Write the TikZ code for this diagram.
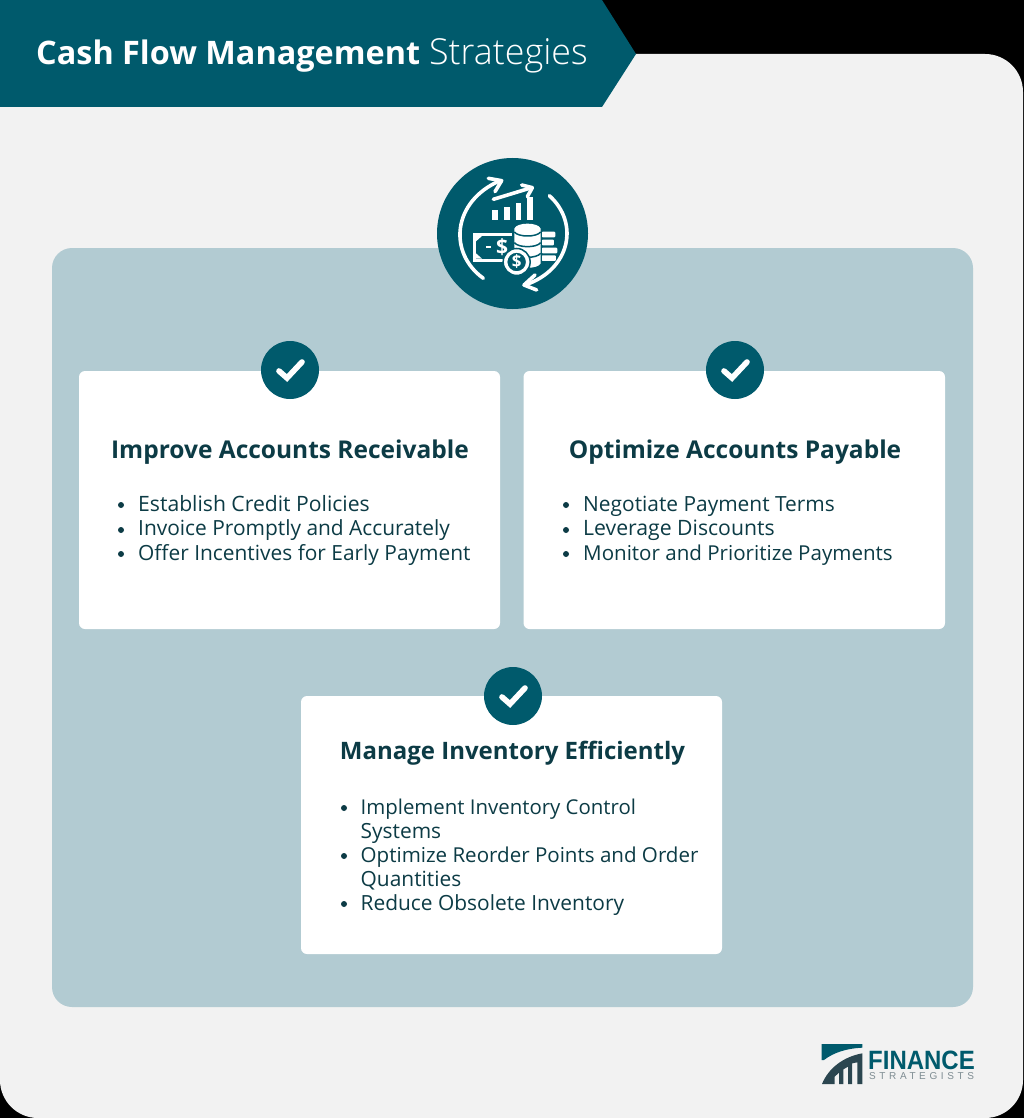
\documentclass[tikz,border=0pt]{standalone}
\usepackage{fontspec}
\setmainfont{Open Sans}
\newfontfamily\lightfont{Open Sans Light}
\newfontfamily\logofont[LetterSpace=36]{Liberation Sans}
\newfontfamily\logobold[FakeStretch=0.905]{Liberation Sans}
\definecolor{teal}{HTML}{005A6C}
\definecolor{ink}{HTML}{0C3B45}
\definecolor{pale}{HTML}{B2CBD2}
\definecolor{sheet}{HTML}{F2F2F2}
\definecolor{logodark}{HTML}{2B4650}
\definecolor{logogrey}{HTML}{7E8C92}
\tikzset{
 card/.style={fill=white,rounded corners=6pt},
 badge/.style={circle,fill=teal,minimum size=58pt,inner sep=0pt},
 tick/.style={draw=white,line width=5.6pt,line cap=round,line join=miter},
 head/.style={anchor=base,inner sep=0pt,font=\fontsize{24.5}{25}\selectfont\bfseries,text=ink},
 item/.style={anchor=base west,inner sep=0pt,font=\fontsize{20.9}{24}\selectfont,text=ink},
 dotm/.style={circle,fill=ink,minimum size=6pt,inner sep=0pt},
 icon/.style={draw=white,line width=3.6pt,line cap=round,line join=round},
 iconbar/.style={fill=white,rounded corners=1pt},
}
\newcommand{\ticks}[2]{\draw[tick] (#1-11,#2+1) -- (#1-3,#2+8) -- (#1+12,#2-8);}
\newcommand{\fs}[1]{\fontsize{#1}{24}\selectfont}
\begin{document}
\begin{tikzpicture}[x=1pt,y=-1pt]
\useasboundingbox (0,0) rectangle (1024,1118);
\fill[black] (0,0) rectangle (1024,1118);
\fill[sheet] (0,54) -- (985,54) .. controls (1006,54) and (1023,71) .. (1023,92) -- (1023,1080) .. controls (1023,1101) and (1006,1118) .. (985,1118) -- (38,1118) .. controls (17,1118) and (0,1101) .. (0,1080) -- cycle;
\fill[teal] (0,0) -- (602,0) -- (636,54) -- (602,107) -- (0,107) -- cycle;
\node[anchor=base west,inner sep=0pt,text=white,font=\fontsize{32.4}{33}\selectfont] (title) at (36,65) {\textbf{Cash Flow Management}\hspace{9pt}{\lightfont\fontsize{35.8}{33}\selectfont Strategies}};
\fill[pale,rounded corners=20pt] (52,248) rectangle (973,1007);
% cards
\fill[card] (79,371) rectangle (500,629);
\fill[card] (523.5,371) rectangle (945,629);
\fill[card] (301,696) rectangle (722,954);
\node[badge] (b1) at (290,370) {};
\node[badge] (b2) at (735,370) {};
\node[badge] (b3) at (513,696) {};
\ticks{290}{370}
\ticks{735}{370}
\ticks{513}{696}
% card 1
\node[head] (h1) at (290,458) {Improve Accounts Receivable};
\node[dotm] at (121,505) {};\node[item] (a1) at (138,511) {\fs{21.15}Establish Credit Policies};
\node[dotm] at (121,530) {};\node[item] (a2) at (138,535.5) {Invoice Promptly and Accurately};
\node[dotm] at (121,554) {};\node[item] (a3) at (138,560) {Offer Incentives for Early Payment};
% card 2
\node[head] (h2) at (735,458) {Optimize Accounts Payable};
\node[dotm] at (566,505) {};\node[item] (c1) at (583,511) {Negotiate Payment Terms};
\node[dotm] at (566,530) {};\node[item] (c2) at (583,535.5) {\fs{21.2}Leverage Discounts};
\node[dotm] at (566,554) {};\node[item] (c3) at (583,560) {\fs{20.55}Monitor and Prioritize Payments};
% card 3
\node[head,font=\fontsize{24}{25}\selectfont\bfseries] (h3) at (512.5,759) {Manage Inventory Efficiently};
\node[dotm] at (344,808) {};\node[item] (d1) at (360.5,814) {\fs{20.4}Implement Inventory Control};
\node[item] (d2) at (360.5,838.5) {Systems};
\node[dotm] at (344,856) {};\node[item] (d3) at (360.5,862) {\fs{20.55}Optimize Reorder Points and Order};
\node[item] (d4) at (360.5,886.5) {Quantities};
\node[dotm] at (344,904) {};\node[item] (d5) at (360.5,910) {Reduce Obsolete Inventory};
% big icon
\node[circle,fill=teal,minimum size=151pt,inner sep=0pt] (main) at (512.5,233.5) {};
\begin{scope}[shift={(420,150)},x=0.3333pt,y=-0.3333pt]
 \draw[icon] (190,385) .. controls (85,310) and (95,155) .. (240,92);
 \draw[icon] (205,85) -- (245,92) -- (225,125);
 \draw[icon] (388,137) .. controls (480,220) and (450,360) .. (315,405);
 \draw[icon] (345,375) -- (312,405) -- (350,420);
 \draw[icon] (220,148) -- (335,113);
 \draw[icon] (305,105) -- (337,113) -- (322,140);
 \fill[white] (217,180) rectangle (234,211);
 \fill[white] (252,170) rectangle (269,211);
 \fill[white] (287,158) rectangle (304,211);
 \fill[white] (322,140) rectangle (338,211);
 % bill
 \fill[white] (158,250) rectangle (290,336);
 \fill[teal] (168,258) rectangle (290,326);
 \fill[white] (168,258) -- (186,258) -- (168,274) -- cycle;
 \fill[white] (168,326) -- (186,326) -- (168,310) -- cycle;
 \fill[white] (198,287) rectangle (213,294);
 \node[inner sep=0pt,text=white,font=\fontsize{21}{21}\selectfont\bfseries] (dollar1) at (246,291) {\$};
 % side stack
 \fill[iconbar] (365,245) rectangle (406,262);
 \fill[iconbar] (365,269) rectangle (402,286);
 \fill[iconbar] (365,293) rectangle (412,310);
 \fill[iconbar] (365,316) rectangle (408,333);
 % coins
 \fill[teal] (275,225) rectangle (367,355);
 \fill[white] (283,236) -- (283,340) .. controls (290,358) and (355,358) .. (362,340) -- (362,236) .. controls (355,216) and (290,216) .. (283,236) -- cycle;
 \draw[teal,line width=1.5pt] (283,246) .. controls (295,262) and (350,262) .. (362,246);
 \draw[teal,line width=1.5pt] (283,278) .. controls (295,294) and (350,294) .. (362,278);
 \draw[teal,line width=1.5pt] (283,310) .. controls (295,326) and (350,326) .. (362,310);
 \node[circle,draw=teal,line width=1.5pt,minimum size=27pt,inner sep=0pt,fill=white] (coinback) at (290,336) {};
 \node[circle,draw=white,line width=2.4pt,fill=teal,minimum size=21pt,inner sep=0pt,text=white,font=\fontsize{17}{17}\selectfont\bfseries] (dollar2) at (290,336) {\$};
\end{scope}
% logo
\begin{scope}[shift={(800,1030)},x=0.3333pt,y=-0.3333pt]
 \fill[teal] (65,42) -- (187,42) -- (187,53) .. controls (140,55) and (100,68) .. (72,90) -- (65,90) -- cycle;
 \fill[logodark] (66,162) .. controls (85,115) and (130,80) .. (187,70) -- (187,162) -- (172,162) -- (172,97) -- (156,100) -- (156,162) -- (144,162) -- (144,110) -- (130,118) -- (130,162) -- (117,162) -- (117,128) -- (104,140) -- (104,162) -- cycle;
\end{scope}
\node[anchor=base west,inner sep=0pt,text=teal,font=\fontsize{26.5}{26}\logobold\bfseries] (fin) at (868,1069) {FINANCE};
\node[anchor=base west,inner sep=0pt,text=logogrey,font=\fontsize{10}{10}\logofont] (str) at (869,1079) {STRATEGISTS};
\end{tikzpicture}
\end{document}
